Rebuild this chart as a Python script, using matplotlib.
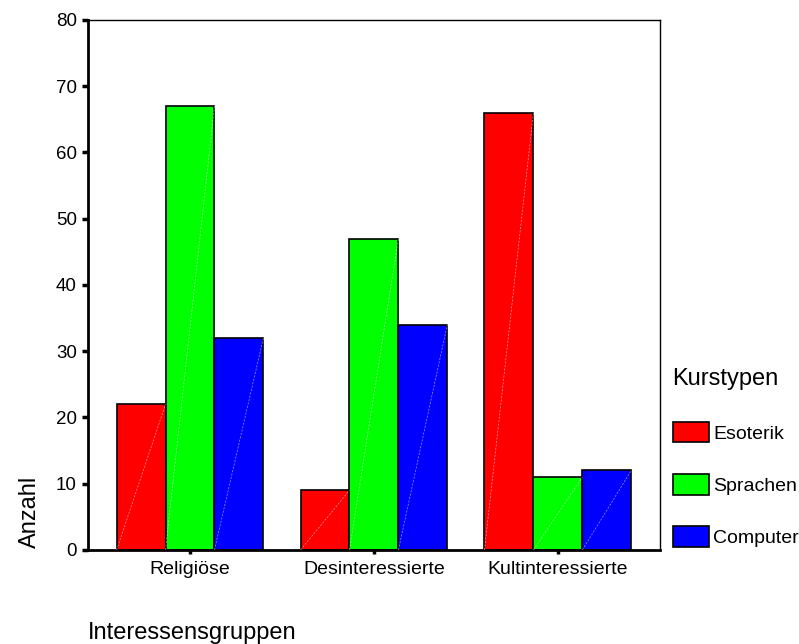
import matplotlib
matplotlib.use("Agg")
import matplotlib.pyplot as plt
import numpy as np

plt.rcParams['font.family'] = ['Liberation Sans', 'DejaVu Sans']

gruppen = ['Religiöse', 'Desinteressierte', 'Kultinteressierte']
kurstypen = ['Esoterik', 'Sprachen', 'Computer']
esoterik = [22, 9, 66]
sprachen = [67, 47, 11]
computer = [32, 34, 12]
farben = ['#ff0000', '#00ff00', '#0000ff']

fig = plt.figure(figsize=(7.99, 6.44), dpi=100)
ax = fig.add_axes([0.110, 0.146, 0.716, 0.823])

x = np.arange(len(gruppen))
breite = 0.266
for i, (werte, name) in enumerate(zip([esoterik, sprachen, computer], kurstypen)):
    pos = x + (i - 1) * breite
    bars = ax.bar(pos, werte, breite, color=farben[i], edgecolor='black',
                  linewidth=1.2, label=name, zorder=2)
    # feine Diagonale in jedem Balken (wie im SPSS-Export)
    for b in bars:
        x0, x1 = b.get_x(), b.get_x() + b.get_width()
        ax.plot([x0, x1], [0, b.get_height()], color='white', lw=0.5,
                alpha=0.6, ls=(0, (3, 2)), zorder=3)

ax.set_xlim(-0.555, 2.555)
ax.set_ylim(0, 80)
ax.set_yticks(range(0, 81, 10))
ax.set_xticks(x)
ax.set_xticklabels(gruppen, fontsize=14)
ax.tick_params(axis='y', labelsize=13.5, length=4, width=2.5, direction='out', pad=4)
ax.tick_params(axis='x', length=3, width=2.5, direction='out', pad=5)

for s in ['left', 'bottom']:
    ax.spines[s].set_linewidth(2)
for s in ['top', 'right']:
    ax.spines[s].set_linewidth(1)

fig.text(0.038, 0.205, 'Anzahl', rotation=90, fontsize=17, ha='center', va='center')
fig.text(0.110, 0.007, 'Interessensgruppen', fontsize=17, ha='left', va='baseline')

leg = ax.legend(title='Kurstypen', loc='upper left', bbox_to_anchor=(0.832, 0.44),
                bbox_transform=fig.transFigure, frameon=False, fontsize=14,
                title_fontsize=17, handlelength=1.85, handleheight=1.24,
                labelspacing=1.62, handletextpad=0.25, borderaxespad=0)
leg._legend_box.align = 'left'

fig.savefig('out.png', dpi=100)
